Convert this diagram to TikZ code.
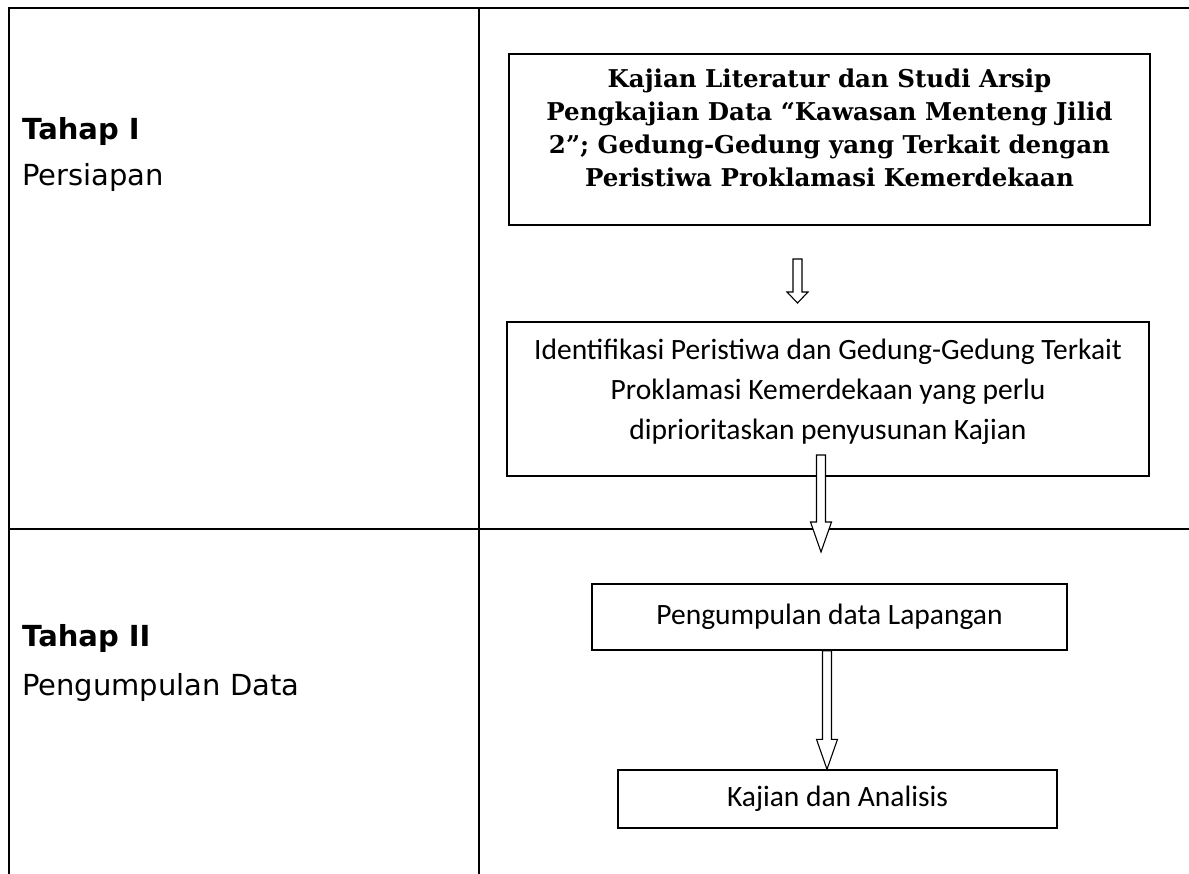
\documentclass[tikz,border=0pt]{standalone}
\usepackage{fontspec}
\setmainfont{Carlito}
\newfontfamily\labelfont{DejaVu Sans}
\newfontfamily\boxserif{DejaVu Serif}
\usetikzlibrary{calc,positioning}

\begin{document}
\begin{tikzpicture}[x=1pt,y=-1pt,
			rule/.style={black,line width=1.8pt},
			stage/.style={anchor=base west,inner sep=0pt,font=\labelfont\fontsize{29}{33}\selectfont},
			stepbox/.style={draw=black,line width=1.4pt,align=center,inner sep=0pt,
				font=\fontsize{29.5}{40}\selectfont},
			hollow/.style={draw=black,line width=1.1pt,fill=white,
				to path={let \p1=(\tikztostart), \p2=(\tikztotarget) in
					(\x1-4.5pt,\y1) -- (\x1+4.5pt,\y1) -- (\x1+4.5pt,\y2+#1) -- (\x1+10.5pt,\y2+#1)
					-- (\x1,\y2) -- (\x1-10.5pt,\y2+#1) -- (\x1-4.5pt,\y2+#1) -- cycle}},
			hollow/.default=30pt]
		\useasboundingbox (0,0) rectangle (1189,874);
		% table rules
		\draw [rule] (9,874) -- (9,8) -- (1189,8);
		\draw [rule] (479,8) -- (479,874);
		\draw [rule] (9,529) -- (1189,529);
		% stage labels
		\path 	(22,140) 	node 	(t1) [stage] {\bfseries Tahap I}
		        (22,186) 	node 	(p1) [stage] {Persiapan}
		        (22,646) 	node 	(t2) [stage] {\bfseries Tahap II}
		        (22,695) 	node 	(p2) [stage] {Pengumpulan Data};
		% boxes
		\path 	(829.5,139.5) node 	(lit) [stepbox, minimum width=641, minimum height=171, text depth=24pt,
					font=\boxserif\bfseries\fontsize{24.5}{33}\selectfont]
					{Kajian Literatur dan Studi Arsip\\Pengkajian Data “Kawasan Menteng Jilid\\2”; Gedung-Gedung yang Terkait dengan\\Peristiwa Proklamasi Kemerdekaan}
		        (828,399) 	node 	(idf) [stepbox, minimum width=642, minimum height=154, text depth=20pt]
					{Identifikasi Peristiwa dan Gedung-Gedung Terkait\\Proklamasi Kemerdekaan yang perlu\\diprioritaskan penyusunan Kajian}
		        (829.5,617) node 	(lap) [stepbox, minimum width=475, minimum height=66] {Pengumpulan data Lapangan}
		        (837.5,799) node 	(ana) [stepbox, minimum width=439, minimum height=58] {Kajian dan Analisis};
		% arrow ends
		\coordinate (a1s) at (797.5,259);
		\coordinate (a1e) at (797.5,303);
		\coordinate (a2s) at (821,455);
		\coordinate (a2e) at (821,552);
		\coordinate (a3x) at (827,0);
		\coordinate (a3s) at (a3x |- lap.south);
		\coordinate (a3e) at (a3x |- ana.north);
		\draw [hollow=11pt] (a1s) to (a1e);
		\draw [hollow] (a2s) to (a2e);
		\draw [hollow] (a3s) to (a3e);
	\end{tikzpicture}
\end{document}
